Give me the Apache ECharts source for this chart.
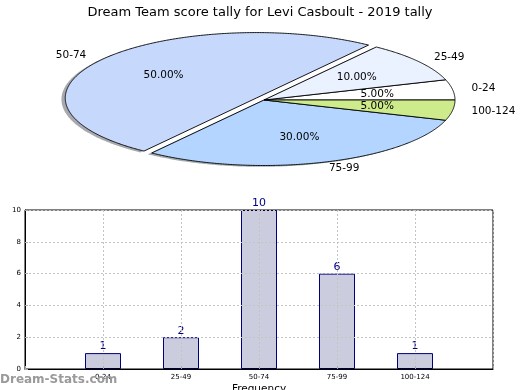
<!DOCTYPE html>
<html><head><meta charset="utf-8">
<script src="https://cdn.jsdelivr.net/npm/echarts@6/dist/echarts.min.js"></script>
<style>html,body{margin:0;padding:0;background:#fff}#c{width:520px;height:390px}</style>
</head><body><div id="c"></div>
<script>
const titleText = 'Dream Team score tally for Levi Casboult - 2019 tally';
const categories = ['0-24', '25-49', '50-74', '75-99', '100-124'];
const counts = [1, 2, 10, 6, 1];
const yTickMax = 10;
const yTickStep = 2;

// styling (kept separate from data)
const sliceColors = ['#ffffff', '#eaf1ff', '#c6d9fd', '#b3d5ff', '#cdeb8b'];
const explodeFrac = [0, 0, 0.05, 0, 0];
const PIE = { cx: 264, cy: 100, rx: 191, ry: 65.5 };
const FONT = 'DejaVu Sans';

const total = counts.reduce((a, b) => a + b, 0);
const startDeg = [];
let acc = 0;
counts.forEach(v => { startDeg.push(acc / total * 360); acc += v; });
const RAD = Math.PI / 180;

function geom(i, shadow) {
  const a0 = startDeg[i], a1 = a0 + counts[i] / total * 360, mid = (a0 + a1) / 2;
  const e = explodeFrac[i];
  let ox = e * PIE.rx * Math.cos(mid * RAD), oy = -e * PIE.ry * Math.sin(mid * RAD);
  if (shadow) { ox += -0.02 * PIE.rx; oy += 0.02 * PIE.ry; }
  const p = (deg, f) => [PIE.cx + ox + f * PIE.rx * Math.cos(deg * RAD), PIE.cy + oy - f * PIE.ry * Math.sin(deg * RAD)];
  const pts = [[PIE.cx + ox, PIE.cy + oy]];
  for (let a = a0; a < a1; a += 0.5) pts.push(p(a, 1));
  pts.push(p(a1, 1));
  return { pts, mid, p };
}

function hexDark(hex, k) {
  const n = parseInt(hex.slice(1), 16);
  const r = ((n >> 16) & 255) * k, g = ((n >> 8) & 255) * k, b = (n & 255) * k;
  return 'rgba(' + Math.round(r) + ',' + Math.round(g) + ',' + Math.round(b) + ',0.45)';
}

const pieData = counts.map(v => [v]);
const padCats = [''].concat(categories, ['']);
const padCounts = ['-'].concat(counts, ['-']);

const chart = echarts.init(document.getElementById('c'), null, { renderer: 'canvas' });
chart.setOption({
  animation: false,
  textStyle: { fontFamily: FONT },
  title: {
    text: titleText, left: 'center', top: 1,
    textStyle: { fontFamily: FONT, fontSize: 13, fontWeight: 'normal', color: '#000' }
  },
  grid: { left: 25, right: 27, top: 210, bottom: 21, show: true, borderColor: '#000', borderWidth: 1, backgroundColor: 'transparent', outerBoundsMode: 'none', containLabel: false },
  xAxis: {
    type: 'category', data: padCats, boundaryGap: false,
    name: 'Frequency', nameLocation: 'middle', nameGap: 15,
    nameTextStyle: { fontFamily: FONT, fontSize: 10.5, color: '#000' },
    axisLine: { show: true, lineStyle: { color: '#000', width: 1 } },
    axisTick: { show: true, inside: true, length: 3, lineStyle: { color: '#aaa' } },
    axisLabel: { interval: 0, fontSize: 7, margin: 5, color: '#000', fontFamily: FONT },
    splitLine: { show: true, lineStyle: { color: '#c4c4c4', type: [2, 2], width: 1 } }
  },
  yAxis: {
    type: 'value', min: 0, max: yTickMax, interval: yTickStep,
    name: 'Stat Intervals', nameLocation: 'middle', nameGap: 14, nameRotate: 90,
    nameTextStyle: { fontFamily: FONT, fontSize: 10.5, color: '#000' },
    axisLine: { show: true, lineStyle: { color: '#000', width: 1 } },
    axisTick: { show: true, inside: true, length: 3, lineStyle: { color: '#aaa' } },
    axisLabel: { fontSize: 7, margin: 4, color: '#000', fontFamily: FONT },
    splitLine: { show: true, lineStyle: { color: '#c4c4c4', type: [2, 2], width: 1 } }
  },
  graphic: [{
    type: 'text', left: 0, top: 374, z: 100,
    style: { text: 'Dream-Stats.com', fill: '#9a9a9a', font: 'bold 12px "DejaVu Sans"' }
  }],
  series: [
    {
      type: 'custom', coordinateSystem: 'none', data: pieData, z: 1, silent: true,
      renderItem: function (params, api) {
        const i = params.dataIndex;
        const g = geom(i, true);
        return { type: 'polygon', shape: { points: g.pts }, style: { fill: hexDark(sliceColors[i], 0.3), stroke: null } };
      }
    },
    {
      type: 'custom', coordinateSystem: 'none', data: pieData, z: 2, silent: true,
      renderItem: function (params, api) {
        const i = params.dataIndex;
        const g = geom(i, false);
        const v = api.value(0);
        const lp = g.p(g.mid, 1.1);
        const pp = g.p(g.mid, 0.6);
        const right = Math.cos(g.mid * RAD) >= 0;
        return {
          type: 'group',
          children: [
            { type: 'polygon', shape: { points: g.pts }, style: { fill: sliceColors[i], stroke: '#000', lineWidth: 0.9 } },
            { type: 'text', z2: 10, style: { text: categories[i], x: lp[0], y: lp[1], align: right ? 'left' : 'right', verticalAlign: 'middle', fill: '#000', font: '10.5px "DejaVu Sans"' } },
            { type: 'text', z2: 10, style: { text: (v / total * 100).toFixed(2) + '%', x: pp[0], y: pp[1], align: 'center', verticalAlign: 'middle', fill: '#000', font: '10.5px "DejaVu Sans"' } }
          ]
        };
      }
    },
    {
      type: 'bar', data: padCounts, barWidth: 36, z: -1,
      itemStyle: { color: '#ccccdf', borderColor: '#000080', borderWidth: 1 },
      label: { show: true, position: 'top', distance: 1, color: '#000080', fontSize: 11, fontFamily: FONT }
    }
  ]
});
</script></body></html>
